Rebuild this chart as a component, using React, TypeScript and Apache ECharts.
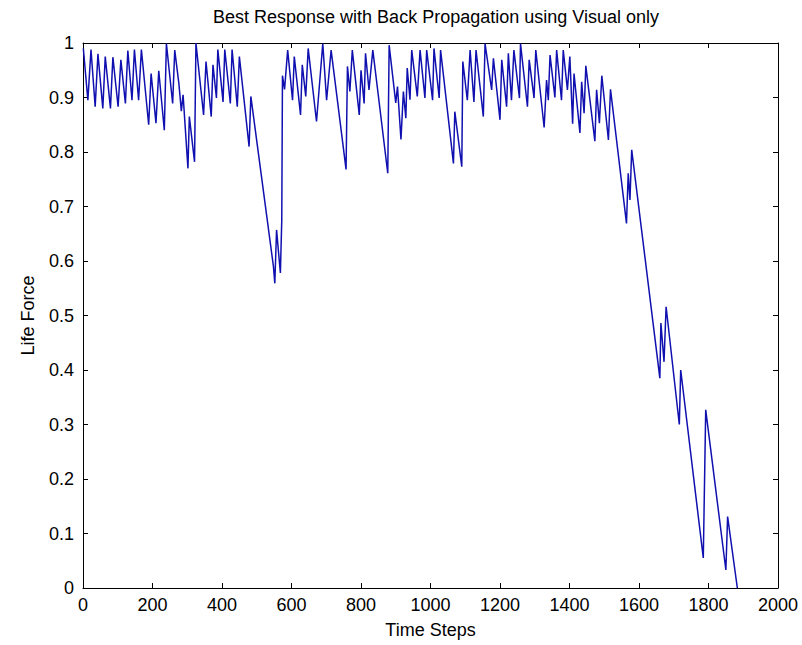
import React, { useEffect, useRef } from "react";
import * as echarts from "echarts";

const titleText = "Best Response with Back Propagation using Visual only";
const xName = "Time Steps";
const yName = "Life Force";

const steps: number[] = [
  1, 14, 23, 35, 43, 57, 64, 79, 86, 101, 109, 122, 129, 141, 148, 160, 168, 189, 196, 210,
  218, 234, 240, 258, 264, 276, 283, 288, 302, 306, 321, 325, 347, 354, 369, 374, 384, 388, 403, 408,
  424, 429, 444, 450, 478, 483, 548, 552, 557, 568, 572, 574, 580, 589, 603, 608, 626, 631, 641, 648,
  672, 690, 701, 714, 757, 761, 768, 775, 795, 800, 809, 813, 823, 834, 877, 881, 900, 905, 915, 922,
  929, 933, 941, 946, 962, 970, 984, 989, 1006, 1010, 1025, 1029, 1066, 1070, 1090, 1093, 1106, 1114, 1125, 1131,
  1152, 1157, 1176, 1181, 1200, 1205, 1219, 1224, 1233, 1240, 1256, 1259, 1279, 1284, 1298, 1303, 1327, 1334, 1339, 1344,
  1358, 1363, 1377, 1382, 1394, 1401, 1409, 1413, 1430, 1435, 1442, 1447, 1473, 1478, 1486, 1493, 1512, 1518, 1564, 1569,
  1574, 1579, 1660, 1663, 1672, 1678, 1716, 1720, 1785, 1792, 1850, 1855, 1883,
];

const life: number[] = [
  0.99, 0.895, 0.988, 0.883, 0.98, 0.88, 0.975, 0.88, 0.974, 0.883, 0.969, 0.889, 0.986, 0.895, 0.988, 0.895, 0.988, 0.85, 0.944, 0.853,
  0.949, 0.84, 0.999, 0.889, 0.987, 0.925, 0.875, 0.905, 0.77, 0.865, 0.782, 1.0, 0.868, 0.966, 0.865, 0.96, 0.899, 0.988, 0.892, 0.988,
  0.889, 0.988, 0.883, 0.975, 0.81, 0.902, 0.59, 0.559, 0.657, 0.578, 0.675, 0.94, 0.915, 0.987, 0.895, 0.975, 0.868, 0.96, 0.902, 0.99,
  0.856, 0.999, 0.895, 0.987, 0.768, 0.957, 0.911, 0.987, 0.868, 0.95, 0.889, 0.981, 0.914, 0.987, 0.761, 0.996, 0.89, 0.92, 0.823, 0.911,
  0.862, 0.954, 0.896, 0.987, 0.902, 0.987, 0.899, 0.987, 0.895, 0.99, 0.899, 0.987, 0.779, 0.874, 0.773, 0.966, 0.895, 0.987, 0.892, 0.987,
  0.865, 0.999, 0.914, 0.972, 0.859, 0.969, 0.883, 0.981, 0.895, 0.987, 0.899, 0.999, 0.883, 0.969, 0.899, 0.987, 0.845, 0.932, 0.895, 0.978,
  0.9, 0.987, 0.895, 0.987, 0.914, 0.975, 0.852, 0.944, 0.835, 0.929, 0.871, 0.958, 0.82, 0.914, 0.853, 0.94, 0.822, 0.915, 0.669, 0.761,
  0.712, 0.804, 0.385, 0.486, 0.415, 0.516, 0.3, 0.4, 0.055, 0.327, 0.033, 0.131, 0.0,
];

const FONT = "'Liberation Sans', Arial, Helvetica, sans-serif";

export default function App() {
  const ref = useRef<HTMLDivElement>(null);
  useEffect(() => {
    if (!ref.current) return;
    const chart = echarts.init(ref.current, null, { renderer: "svg" });
    const data = steps.map((s, i) => [s, life[i]]);
    const axisLine = { show: true, onZero: false, lineStyle: { color: "#000", width: 1 } };
    const tick = { show: true, inside: true, length: 5, lineStyle: { color: "#000" } };
    const label = { color: "#000", fontSize: 18, fontFamily: FONT };
    chart.setOption({
      animation: false,
      backgroundColor: "#fff",
      title: {
        text: titleText,
        left: 431,
        top: 3,
        textAlign: "center",
        textStyle: { color: "#000", fontSize: 18, fontWeight: "normal", fontFamily: FONT },
      },
      grid: { left: 83, top: 43, right: 24, bottom: 57 },
      xAxis: [
        {
          type: "value",
          min: 0,
          max: 2000,
          interval: 200,
          position: "bottom",
          axisLine,
          axisTick: tick,
          axisLabel: { ...label, margin: 8, formatter: (v: number) => String(Math.round(v)) },
          splitLine: { show: false },
          name: xName,
          nameLocation: "middle",
          nameGap: 33,
          nameTextStyle: { ...label },
        },
        {
          type: "value",
          min: 0,
          max: 2000,
          interval: 200,
          position: "top",
          axisLine,
          axisTick: tick,
          axisLabel: { show: false },
          splitLine: { show: false },
        },
      ],
      yAxis: [
        {
          type: "value",
          min: 0,
          max: 1,
          interval: 0.1,
          position: "left",
          axisLine,
          axisTick: tick,
          axisLabel: { ...label, margin: 9, formatter: (v: number) => String(Math.round(v * 10) / 10) },
          splitLine: { show: false },
          name: yName,
          nameLocation: "middle",
          nameGap: 46,
          nameTextStyle: { ...label },
        },
        {
          type: "value",
          min: 0,
          max: 1,
          interval: 0.1,
          position: "right",
          axisLine,
          axisTick: tick,
          axisLabel: { show: false },
          splitLine: { show: false },
        },
      ],
      series: [
        {
          type: "line",
          data,
          xAxisIndex: 0,
          yAxisIndex: 0,
          showSymbol: false,
          symbol: "none",
          lineStyle: { color: "#1010b0", width: 1.5 },
          clip: true,
        },
      ],
    });
    return () => chart.dispose();
  }, []);
  return (
    <div
      ref={ref}
      style={{ position: "fixed", left: 0, top: 0, width: 802, height: 645, background: "#fff" }}
    />
  );
}
